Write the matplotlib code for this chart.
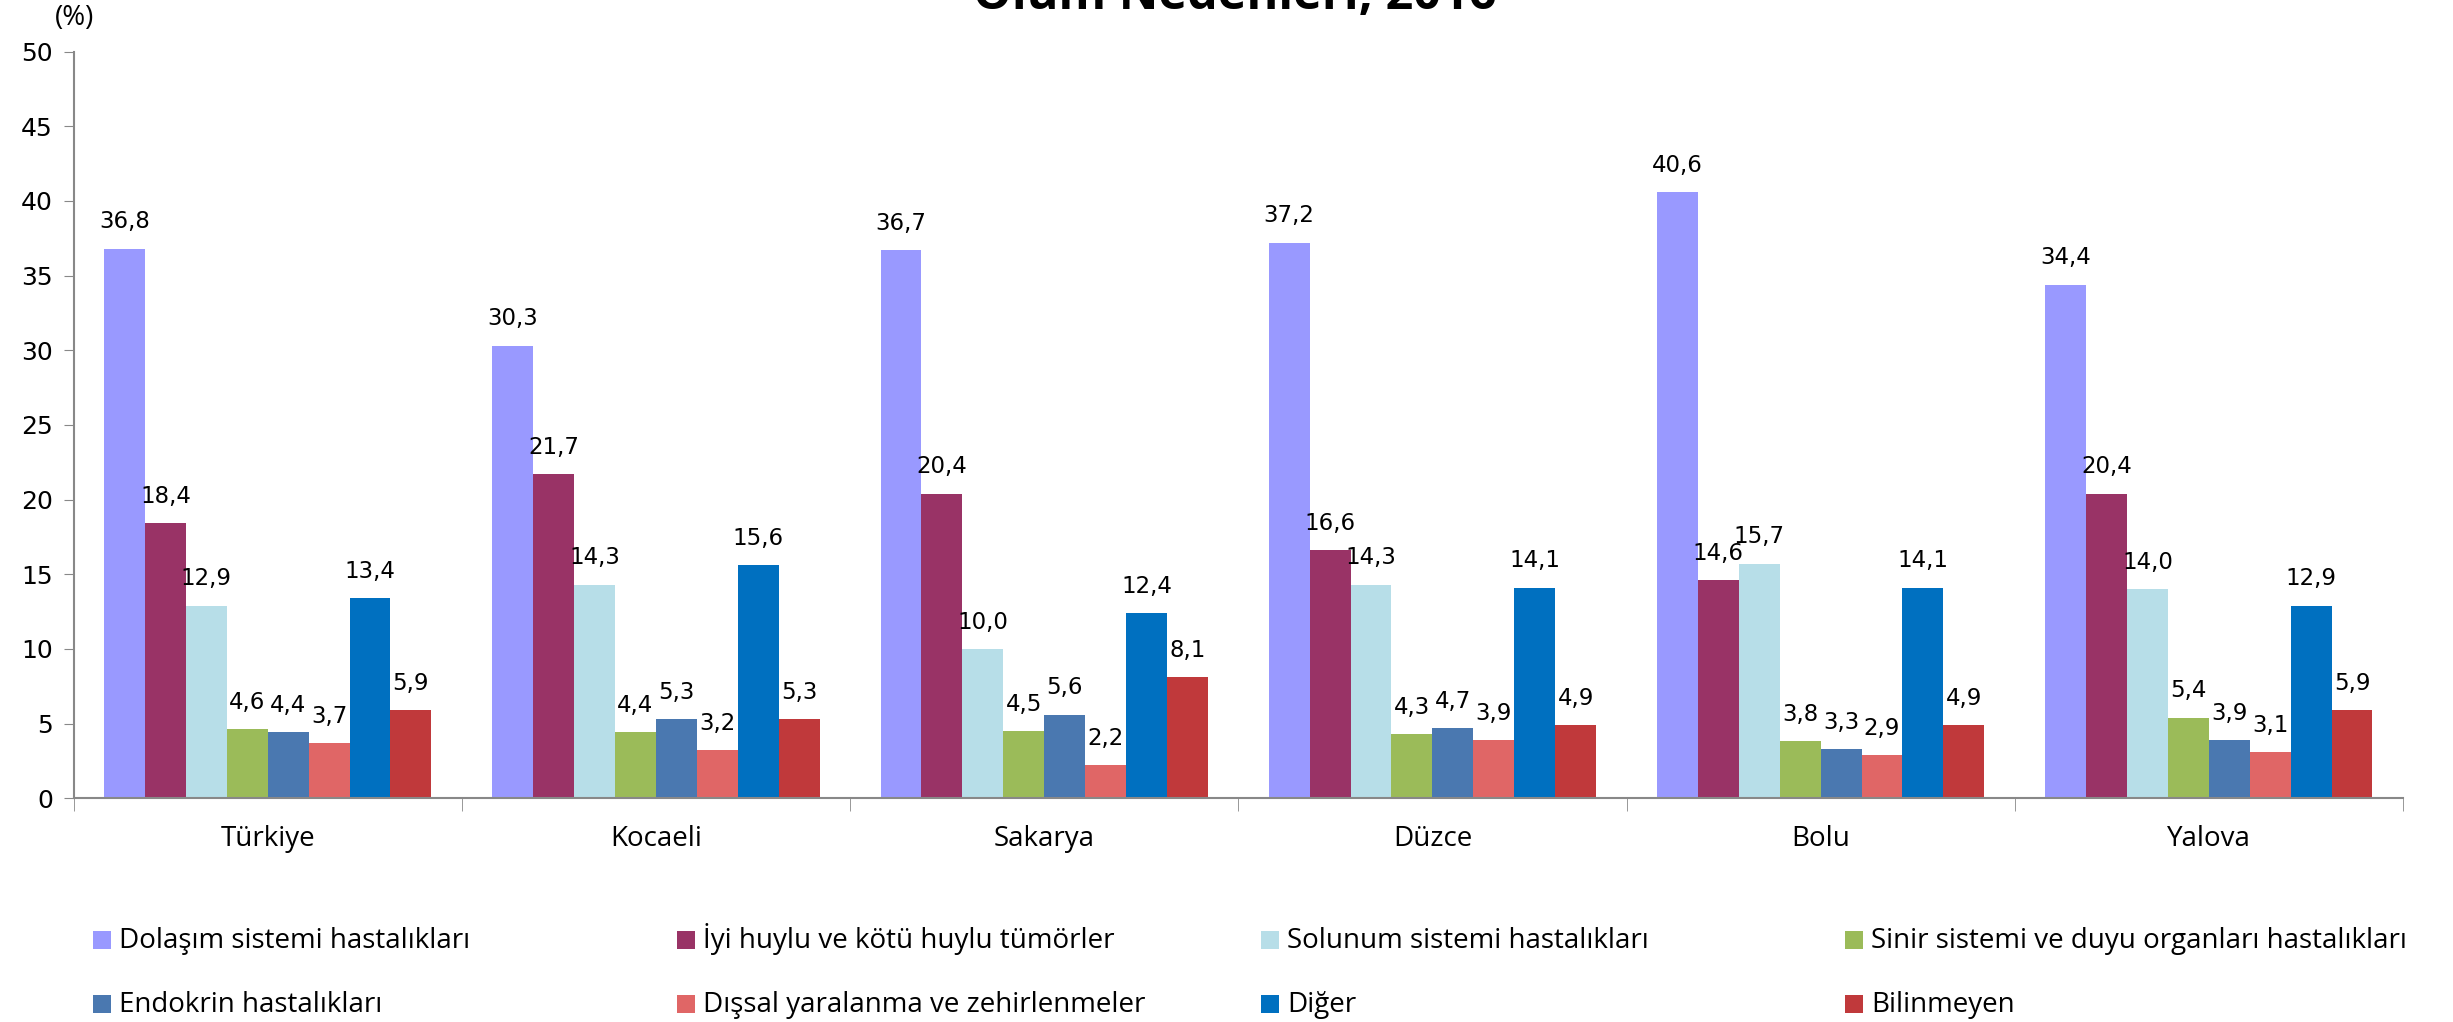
import matplotlib
matplotlib.use("Agg")
import matplotlib.pyplot as plt
from matplotlib.patches import Rectangle
import numpy as np

# provinces and cause-of-death shares (%)
provinces = ["Türkiye", "Kocaeli", "Sakarya", "Düzce", "Bolu", "Yalova"]
causes = ["Dolaşım sistemi hastalıkları", "İyi huylu ve kötü huylu tümörler",
          "Solunum sistemi hastalıkları", "Sinir sistemi ve duyu organları hastalıkları",
          "Endokrin hastalıkları", "Dışsal yaralanma ve zehirlenmeler",
          "Diğer", "Bilinmeyen"]
dolasim = [36.8, 30.3, 36.7, 37.2, 40.6, 34.4]
tumor = [18.4, 21.7, 20.4, 16.6, 14.6, 20.4]
solunum = [12.9, 14.3, 10.0, 14.3, 15.7, 14.0]
sinir = [4.6, 4.4, 4.5, 4.3, 3.8, 5.4]
endokrin = [4.4, 5.3, 5.6, 4.7, 3.3, 3.9]
dissal = [3.7, 3.2, 2.2, 3.9, 2.9, 3.1]
diger = [13.4, 15.6, 12.4, 14.1, 14.1, 12.9]
bilinmeyen = [5.9, 5.3, 8.1, 4.9, 4.9, 5.9]
series = [dolasim, tumor, solunum, sinir, endokrin, dissal, diger, bilinmeyen]
colors = ["#9999FF", "#993366", "#B7DEE8", "#9BBB59",
          "#4A78B0", "#E06666", "#0070C0", "#C0393B"]

W, H = 2453, 1022
fig = plt.figure(figsize=(W / 100, H / 100), dpi=100)
ax = fig.add_axes([0.030, 0.219, 0.9496, 0.7305])

x = np.arange(len(provinces))
bw = 0.843 / len(series)
for i, (vals, c) in enumerate(zip(series, colors)):
    pos = x - 0.843 / 2 + bw * (i + 0.5)
    bars = ax.bar(pos, vals, width=bw, color=c, zorder=2)
    for b, v in zip(bars, vals):
        ax.annotate(f"{v:.1f}".replace(".", ","),
                    (b.get_x() + b.get_width() / 2, v),
                    xytext=(0, 11), textcoords="offset points",
                    ha="center", va="bottom", fontsize=16.5, family="DejaVu Sans")

ax.set_xlim(-0.5, len(provinces) - 0.5)
ax.set_ylim(0, 50)
ax.set_yticks(range(0, 51, 5))
ax.tick_params(axis="y", labelsize=18, length=7, color="#888888", pad=8)
ax.set_xticks(x)
ax.set_xticklabels(provinces, fontsize=20, family="Open Sans")
ax.tick_params(axis="x", length=0, pad=19)
ax.set_xticks(np.arange(-0.5, len(provinces)), minor=True)
ax.tick_params(axis="x", which="minor", length=9, color="#888888")
for s in ["top", "right"]:
    ax.spines[s].set_visible(False)
for s in ["left", "bottom"]:
    ax.spines[s].set_color("#888888")
    ax.spines[s].set_linewidth(1.5)

fig.text(74.5 / W, 1 - 18 / H, "(%)", ha="center", va="center", fontsize=20, family="Open Sans")
fig.text(1235 / W, 1 - 9 / H, "Ölüm Nedenleri, 2016", ha="center", va="baseline",
         fontsize=35, fontweight="bold", family="Open Sans")

# legend: 4 evenly spaced columns, 2 rows (row 1 = series 0-3, row 2 = series 4-7)
col_px = [93, 677, 1261, 1845]
row_base = [948, 1012]
for k, (lab, c) in enumerate(zip(causes, colors)):
    r, j = divmod(k, 4)
    x0, yb = col_px[j], row_base[r]
    fig.add_artist(Rectangle((x0 / W, 1 - (yb + 1) / H), 18 / W, 18 / H,
                             transform=fig.transFigure, color=c, lw=0))
    fig.text((x0 + 26) / W, 1 - yb / H, lab, ha="left", va="baseline",
             fontsize=20, family="Open Sans")

fig.savefig("out.png", dpi=100)
